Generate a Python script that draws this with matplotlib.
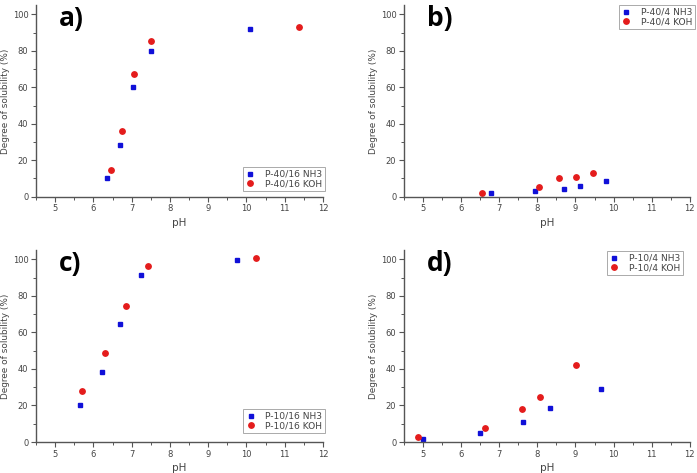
import matplotlib
matplotlib.use("Agg")
import matplotlib.pyplot as plt
from matplotlib.ticker import MultipleLocator

# ---- data ----
a_nh3_ph = [6.36, 6.70, 7.04, 7.50, 10.10]
a_nh3_sol = [10.0, 28.5, 60.1, 80.0, 91.8]
a_koh_ph = [6.47, 6.74, 7.05, 7.51, 11.38]
a_koh_sol = [14.8, 36.2, 67.3, 85.2, 93.0]

b_nh3_ph = [6.79, 7.94, 8.71, 9.11, 9.79]
b_nh3_sol = [1.8, 2.9, 4.0, 5.7, 8.8]
b_koh_ph = [6.54, 8.03, 8.57, 9.01, 9.47]
b_koh_sol = [2.2, 5.1, 10.4, 10.8, 13.0]

c_nh3_ph = [5.65, 6.22, 6.70, 7.25, 9.76]
c_nh3_sol = [20.4, 38.1, 64.6, 91.2, 99.8]
c_koh_ph = [5.69, 6.31, 6.85, 7.44, 10.26]
c_koh_sol = [27.9, 48.5, 74.5, 96.5, 100.7]

d_nh3_ph = [5.00, 6.49, 7.62, 8.32, 9.66]
d_nh3_sol = [1.8, 4.7, 10.8, 18.4, 29.0]
d_koh_ph = [4.87, 6.62, 7.60, 8.07, 9.02]
d_koh_sol = [2.9, 7.7, 17.9, 24.5, 42.0]

panel_letters = ["a)", "b)", "c)", "d)"]
nh3_labels = ["P-40/16 NH3", "P-40/4 NH3", "P-10/16 NH3", "P-10/4 NH3"]
koh_labels = ["P-40/16 KOH", "P-40/4 KOH", "P-10/16 KOH", "P-10/4 KOH"]
x_ticks = [5, 6, 7, 8, 9, 10, 11, 12]
y_ticks = [0, 20, 40, 60, 80, 100]

panels = [
    (a_nh3_ph, a_nh3_sol, a_koh_ph, a_koh_sol),
    (b_nh3_ph, b_nh3_sol, b_koh_ph, b_koh_sol),
    (c_nh3_ph, c_nh3_sol, c_koh_ph, c_koh_sol),
    (d_nh3_ph, d_nh3_sol, d_koh_ph, d_koh_sol),
]

# ---- layout ----
W, H = 697, 473
fig = plt.figure(figsize=(W / 100, H / 100), dpi=100)
rects = [
    (36 / W, 0.5841, 0.4117, 0.4049),
    (404 / W, 0.5841, 0.4100, 0.4049),
    (36 / W, 0.0655, 0.4117, 0.4055),
    (404 / W, 0.0655, 0.4100, 0.4055),
]
# legend boxes in figure pixels: (x0, y0_top, x1, y1_bottom)
legend_boxes = [
    (238, 167, 325, 188),
    (617, 5, 695, 26),
    (238, 409, 325, 431),
    (605, 251, 683, 274),
]
txt = "#444444"
spine = "#555555"
blue = "#1010d8"
red = "#e41c1c"

for i, (rect, data) in enumerate(zip(rects, panels)):
    ax = fig.add_axes(rect)
    nx, ny, kx, ky = data
    ax.plot(nx, ny, linestyle="none", marker="s", markersize=3.5,
            color=blue, label=nh3_labels[i])
    ax.plot(kx, ky, linestyle="none", marker="o", markersize=3.9,
            color=red, label=koh_labels[i])
    ax.set_xlim(4.5, 12)
    ax.set_ylim(0, 105)
    ax.set_xticks(x_ticks)
    ax.set_yticks(y_ticks)
    ax.xaxis.set_minor_locator(MultipleLocator(0.5))
    ax.yaxis.set_minor_locator(MultipleLocator(10))
    for s in ["top", "right"]:
        ax.spines[s].set_visible(False)
    for s in ["left", "bottom"]:
        ax.spines[s].set_color(spine)
        ax.spines[s].set_linewidth(1.0)
    ax.tick_params(which="major", direction="out", length=3.5, width=0.8,
                   color=spine, labelsize=6, labelcolor=txt, pad=2)
    ax.tick_params(which="minor", direction="out", length=2, width=0.7,
                   color=spine)
    ax.set_xlabel("pH", fontsize=7.5, color=txt, labelpad=3)
    ax.set_ylabel("Degree of solubility (%)", fontsize=6.4, color=txt,
                  labelpad=2)
    ax.text(0.08, 1.0, panel_letters[i], transform=ax.transAxes,
            fontsize=19, fontweight="bold", color="black",
            family="Open Sans", va="top", ha="left")
    x0, y0, x1, y1 = legend_boxes[i]
    leg = fig.legend(handles=ax.get_lines(), loc="upper right",
                     bbox_to_anchor=(x1 / W, 1 - y0 / H),
                     bbox_transform=fig.transFigure, fontsize=6.6,
                     frameon=True, fancybox=False, framealpha=1,
                     edgecolor="#aaaaaa", handlelength=1.0,
                     handletextpad=1.1, borderpad=0.3, labelspacing=0.1,
                     borderaxespad=0.0)
    leg.get_frame().set_linewidth(0.7)
    for t in leg.get_texts():
        t.set_color(txt)

fig.savefig("out.png", dpi=100)
